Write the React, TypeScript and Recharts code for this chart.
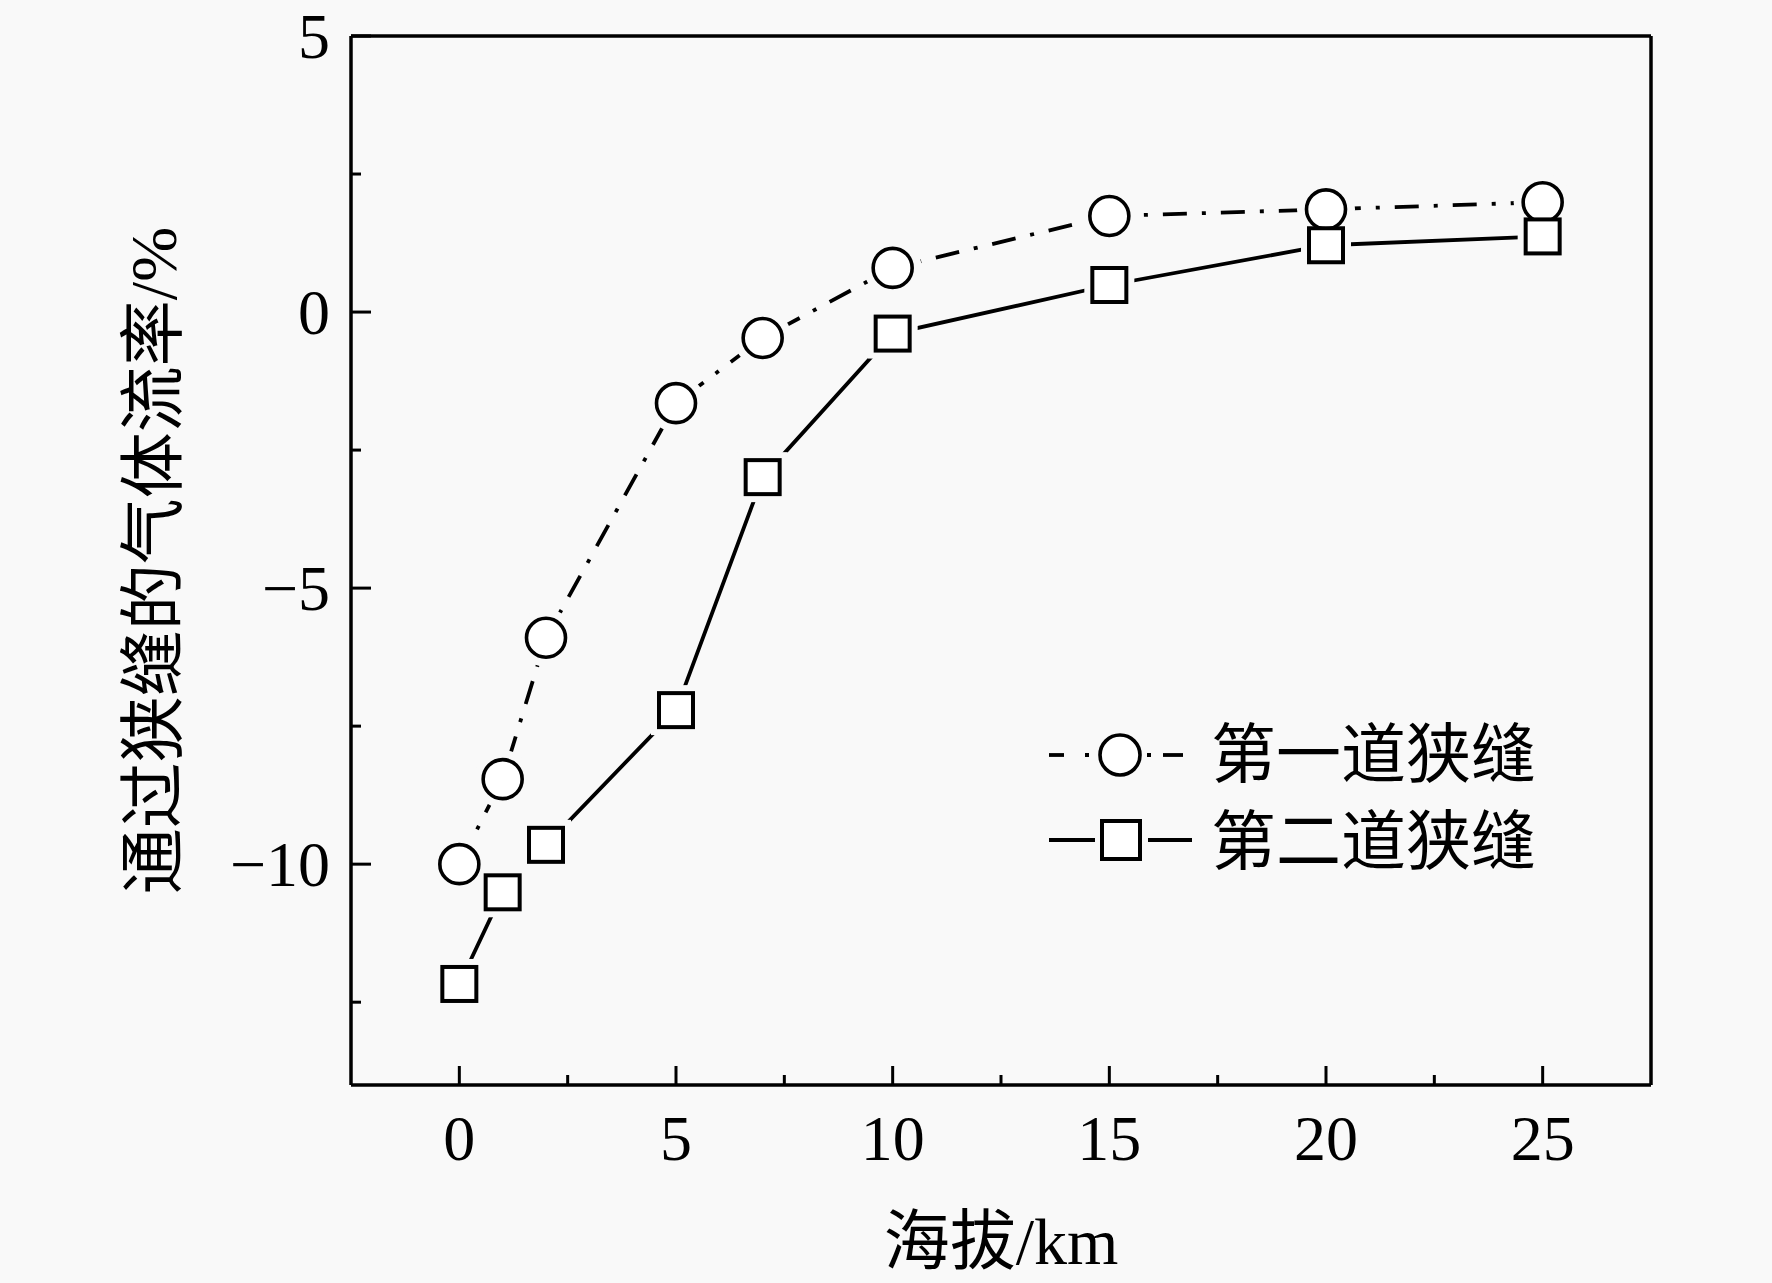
import React from "react";
import { LineChart, Line, XAxis, YAxis, Label, Customized } from "recharts";

// altitude (km)
const altitudes = [0, 1, 2, 5, 7, 10, 15, 20, 25];
// gas flow rate through the slit (%)
const firstSlit = [-10.0, -8.46, -5.9, -1.65, -0.47, 0.8, 1.74, 1.86, 1.99];
const secondSlit = [-12.17, -10.51, -9.65, -7.21, -2.99, -0.39, 0.49, 1.21, 1.37];

const xTicks = [0, 2.5, 5, 7.5, 10, 12.5, 15, 17.5, 20, 22.5, 25];
const yTicks = [-12.5, -10, -7.5, -5, -2.5, 0, 2.5, 5];

const seriesNames = ["第一道狭缝", "第二道狭缝"];
const xTitle = "海拔/km";
const yTitle = "通过狭缝的气体流率/%";

const data = altitudes.map((x, i) => ({ x, s1: firstSlit[i], s2: secondSlit[i] }));

const BG = "#f9f9f9";
const FONT = "'Liberation Serif', 'Noto Sans CJK SC', serif";

const fmt = (v: number) => (v < 0 ? "\u2212" + Math.abs(v) : String(v));

const XTick = (props: any) => {
  const { x, y, payload } = props;
  const major = payload.value % 5 === 0;
  return (
    <g>
      <line x1={x} x2={x} y1={y} y2={y - (major ? 19 : 10)} stroke="#000" strokeWidth={3} />
      {major && (
        <text x={x} y={y + 53} textAnchor="middle" dominantBaseline="central" fontSize={64} fontFamily={FONT} fill="#000">
          {fmt(payload.value)}
        </text>
      )}
    </g>
  );
};

const YTick = (props: any) => {
  const { x, y, payload } = props;
  const major = payload.value % 5 === 0;
  return (
    <g>
      <line x1={x} x2={x + (major ? 20 : 10)} y1={y} y2={y} stroke="#000" strokeWidth={3} />
      {major && (
        <text x={x - 21} y={y} textAnchor="end" dominantBaseline="central" fontSize={64} fontFamily={FONT} fill="#000">
          {fmt(payload.value)}
        </text>
      )}
    </g>
  );
};

const CircleHalo = (p: any) => <circle key={p.key} cx={p.cx} cy={p.cy} r={29} fill={BG} stroke="none" />;
const SquareHalo = (p: any) => <rect key={p.key} x={p.cx - 25} y={p.cy - 25} width={50} height={50} fill={BG} stroke="none" />;
const CircleMark = (p: any) => (
  <circle key={p.key} cx={p.cx} cy={p.cy} r={19.5} fill="#fff" stroke="#000" strokeWidth={3.6} />
);
const SquareMark = (p: any) => (
  <rect key={p.key} x={p.cx - 17} y={p.cy - 17} width={34} height={34} fill="#fff" stroke="#000" strokeWidth={4} />
);

const LegendBox = () => (
  <g fontFamily={FONT} fontSize={65}>
    <line x1={1049} x2={1064} y1={755} y2={755} stroke="#000" strokeWidth={3.8} />
    <rect x={1085} y={753} width={4} height={4} fill="#000" />
    <circle cx={1120} cy={755} r={20} fill="#fff" stroke="#000" strokeWidth={3.6} />
    <rect x={1147} y={753} width={4} height={4} fill="#000" />
    <line x1={1163} x2={1183} y1={755} y2={755} stroke="#000" strokeWidth={3.8} />
    <text x={1211} y={755} dominantBaseline="central" fill="#000">{seriesNames[0]}</text>

    <line x1={1049} x2={1095} y1={840} y2={840} stroke="#000" strokeWidth={3.8} />
    <rect x={1102} y={821} width={38} height={38} fill="#fff" stroke="#000" strokeWidth={4} />
    <line x1={1148} x2={1192} y1={840} y2={840} stroke="#000" strokeWidth={3.8} />
    <text x={1211} y={842} dominantBaseline="central" fill="#000">{seriesNames[1]}</text>
  </g>
);

export default function App() {
  return (
    <div style={{ position: "absolute", left: 0, top: 0, width: 1772, height: 1283, background: BG }}>
      <LineChart width={1772} height={1283} data={data} margin={{ top: 35, right: 120, bottom: 197, left: 350 }}>
        <XAxis
          dataKey="x"
          type="number"
          domain={[-2.5, 27.5]}
          ticks={xTicks}
          height={1}
          tickSize={0}
          tickMargin={0}
          tickLine={false}
          tick={<XTick />}
          axisLine={{ stroke: "#000", strokeWidth: 3.5 }}
          interval={0}
        >
          <Label
            content={({ viewBox }: any) => (
              <text
                x={viewBox.x + viewBox.width / 2}
                y={viewBox.y + 156}
                textAnchor="middle"
                dominantBaseline="central"
                fontSize={66}
                fontFamily={FONT}
                fill="#000"
              >
                {xTitle}
              </text>
            )}
          />
        </XAxis>
        <XAxis
          xAxisId="top"
          orientation="top"
          type="number"
          domain={[-2.5, 27.5]}
          height={1}
          tick={false}
          tickLine={false}
          axisLine={{ stroke: "#000", strokeWidth: 3.5 }}
        />
        <YAxis
          type="number"
          domain={[-14, 5]}
          ticks={yTicks}
          width={1}
          tickSize={0}
          tickMargin={0}
          tickLine={false}
          tick={<YTick />}
          axisLine={{ stroke: "#000", strokeWidth: 3.5 }}
          interval={0}
        >
          <Label
            content={({ viewBox }: any) => {
              const cx = viewBox.x + viewBox.width - 198;
              const cy = viewBox.y + viewBox.height / 2;
              return (
                <text
                  x={cx}
                  y={cy}
                  transform={`rotate(-90 ${cx} ${cy})`}
                  textAnchor="middle"
                  dominantBaseline="central"
                  fontSize={66}
                  fontFamily={FONT}
                  fill="#000"
                >
                  {yTitle}
                </text>
              );
            }}
          />
        </YAxis>
        <YAxis
          yAxisId="right"
          orientation="right"
          type="number"
          domain={[-14, 5]}
          width={1}
          tick={false}
          tickLine={false}
          axisLine={{ stroke: "#000", strokeWidth: 3.5 }}
        />
        <Line
          dataKey="s1"
          type="linear"
          stroke="#000"
          strokeWidth={3.8}
          strokeDasharray="24 15 4 15"
          dot={CircleHalo}
          activeDot={false}
          isAnimationActive={false}
        />
        <Line
          dataKey="s2"
          type="linear"
          stroke="#000"
          strokeWidth={3.8}
          dot={SquareHalo}
          activeDot={false}
          isAnimationActive={false}
        />
        <Line dataKey="s1" type="linear" stroke="none" dot={CircleMark} activeDot={false} isAnimationActive={false} />
        <Line dataKey="s2" type="linear" stroke="none" dot={SquareMark} activeDot={false} isAnimationActive={false} />
        <Customized component={LegendBox} />
      </LineChart>
    </div>
  );
}
